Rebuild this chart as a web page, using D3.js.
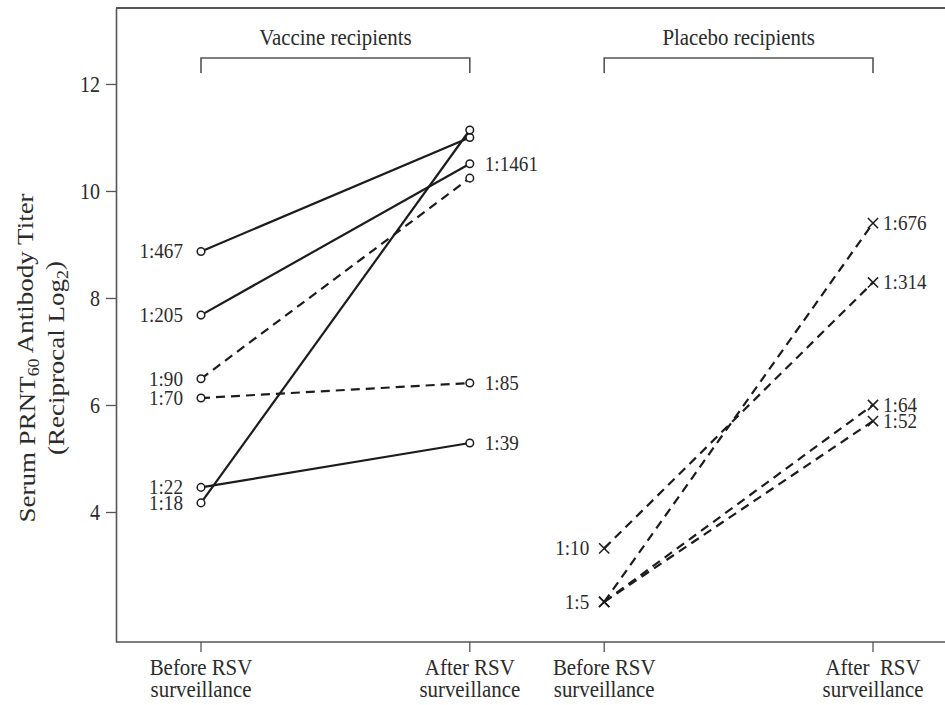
<!DOCTYPE html>
<html>
<head>
<meta charset="utf-8">
<script src="https://cdn.jsdelivr.net/npm/d3@7"></script>
<style>
  body { margin: 0; background: #fff; }
  svg { font-family: "Liberation Serif", "Times New Roman", serif; }
</style>
</head>
<body>
<div id="chart"></div>
<script>
// values are reciprocal log2 titers
var groups = ["Vaccine recipients", "Placebo recipients"];
var times = ["Before", "After"];
var timeLabels = [["Before RSV", "surveillance"], ["After RSV", "surveillance"],
                  ["Before RSV", "surveillance"], ["After  RSV", "surveillance"]];
var yTicks = [4, 6, 8, 10, 12];

var vaccineBefore = [8.87, 7.68, 6.49, 6.13, 4.46, 4.17];
var vaccineAfter  = [11.0, 10.51, 10.24, 6.41, 5.29, 11.14];
var vaccineDashed = [false, false, true, true, false, false];
var vaccineBeforeLabels = ["1:467", "1:205", "1:90", "1:70", "1:22", "1:18"];
var vaccineAfterLabels  = ["", "1:1461", "", "1:85", "1:39", ""];

var placeboBefore = [2.32, 3.32, 2.32, 2.32];
var placeboAfter  = [9.40, 8.29, 6.00, 5.70];
var placeboDashed = [true, true, true, true];
var placeboBeforeLabels = ["1:5", "1:10", "", ""];
var placeboAfterLabels  = ["1:676", "1:314", "1:64", "1:52"];

var W = 945, H = 705;
var plotLeft = 116, plotTop = 8, plotBottom = 642;
var squeeze = 0.87;
var ink = "#1c1c1c", textCol = "#2b2b2b", frameCol = "#555";

var svg = d3.select("#chart").append("svg")
  .attr("width", W).attr("height", H);

var y = d3.scaleLinear().domain([1.57, 13.42]).range([plotBottom, plotTop]);

var xGroup = d3.scaleBand().domain(groups).range([201, 873])
  .paddingInner(1 / 3).paddingOuter(0);
var xTime = d3.scalePoint().domain(times).range([0, xGroup.bandwidth()]);
var xPos = function(g, t) { return xGroup(g) + xTime(t); };

// squeezed horizontal text, like the narrow face in the figure
var label = function(parent, x, yy, txt, anchor, size) {
  return parent.append("text")
    .attr("transform", "translate(" + x + "," + yy + ") scale(" + squeeze + ",1)")
    .attr("text-anchor", anchor)
    .style("font-size", size + "px")
    .style("white-space", "pre")
    .attr("fill", textCol)
    .text(txt);
};

// frame: top and bottom rules
svg.append("line").attr("x1", plotLeft).attr("x2", W).attr("y1", plotTop).attr("y2", plotTop)
  .attr("stroke", frameCol).attr("stroke-width", 2);
svg.append("line").attr("x1", plotLeft).attr("x2", W).attr("y1", plotBottom).attr("y2", plotBottom)
  .attr("stroke", frameCol).attr("stroke-width", 1.6);

// y axis
var yAxis = d3.axisLeft(y).tickValues(yTicks).tickSize(10).tickSizeOuter(0).tickPadding(6);
var gy = svg.append("g").attr("transform", "translate(" + plotLeft + ",0)").call(yAxis);
gy.select(".domain").attr("stroke", frameCol).attr("stroke-width", 1.6);
gy.selectAll(".tick line").attr("stroke", frameCol).attr("stroke-width", 1.3);
gy.selectAll(".tick text")
  .attr("x", -16 / squeeze)
  .attr("transform", "scale(" + squeeze + ",1)")
  .attr("fill", textCol)
  .style("font-size", "23px")
  .style("font-family", "Liberation Serif, serif");

// y title
var t1 = svg.append("text")
  .attr("transform", "translate(35,358) scale(" + squeeze + ",1) rotate(-90)")
  .attr("text-anchor", "middle").style("font-size", "27px").attr("fill", textCol);
t1.append("tspan").text("Serum PRNT");
t1.append("tspan").attr("dy", "0.25em").style("font-size", "18px").text("60");
t1.append("tspan").attr("dy", "-0.25em").text(" Antibody Titer");
var t2 = svg.append("text")
  .attr("transform", "translate(64,358) scale(" + squeeze + ",1) rotate(-90)")
  .attr("text-anchor", "middle").style("font-size", "27px").attr("fill", textCol);
t2.append("tspan").text("(Reciprocal Log");
t2.append("tspan").attr("dy", "0.25em").style("font-size", "18px").text("2");
t2.append("tspan").attr("dy", "-0.25em").text(")");

// x ticks and labels
var xCats = [];
groups.forEach(function(g) { times.forEach(function(t) { xCats.push(xPos(g, t)); }); });
svg.selectAll(".xtick").data(xCats).enter().append("line")
  .attr("x1", function(d) { return d; }).attr("x2", function(d) { return d; })
  .attr("y1", plotBottom).attr("y2", plotBottom + 10)
  .attr("stroke", frameCol).attr("stroke-width", 1.3);
xCats.forEach(function(xx, i) {
  label(svg, xx, 675, timeLabels[i][0], "middle", 24);
  label(svg, xx, 697, timeLabels[i][1], "middle", 24);
});

// group brackets and titles
groups.forEach(function(g) {
  var x0 = xPos(g, "Before"), x1 = xPos(g, "After");
  svg.append("path")
    .attr("d", "M" + x0 + ",73V58H" + x1 + "V73")
    .attr("fill", "none").attr("stroke", frameCol).attr("stroke-width", 1.6);
  label(svg, (x0 + x1) / 2, 45, g, "middle", 24);
});

var drawGroup = function(g, before, after, dashed, bLabels, aLabels, marker) {
  var xb = xPos(g, "Before"), xa = xPos(g, "After");
  var rows = before.map(function(v, i) {
    return {b: v, a: after[i], dash: dashed[i], lb: bLabels[i], la: aLabels[i]};
  });
  var layer = svg.append("g");
  layer.selectAll("line.subj").data(rows).enter().append("line")
    .attr("x1", xb).attr("y1", function(d) { return y(d.b); })
    .attr("x2", xa).attr("y2", function(d) { return y(d.a); })
    .attr("stroke", ink).attr("stroke-width", 2.2)
    .attr("stroke-dasharray", function(d) { return d.dash ? "9,6" : null; });

  var pts = [];
  rows.forEach(function(d) { pts.push({x: xb, v: d.b}); pts.push({x: xa, v: d.a}); });
  if (marker == "circle") {
    layer.selectAll("circle").data(pts).enter().append("circle")
      .attr("cx", function(d) { return d.x; }).attr("cy", function(d) { return y(d.v); })
      .attr("r", 3.8).attr("fill", "#fff").attr("stroke", ink).attr("stroke-width", 1.5);
  } else {
    var sym = d3.symbol(d3.symbolX, 70);
    layer.selectAll("path.x").data(pts).enter().append("path")
      .attr("transform", function(d) { return "translate(" + d.x + "," + y(d.v) + ")"; })
      .attr("d", sym).attr("fill", "none").attr("stroke", ink).attr("stroke-width", 1.5);
  }
  return {rows: rows, xb: xb, xa: xa};
};

var vac = drawGroup(groups[0], vaccineBefore, vaccineAfter, vaccineDashed,
  vaccineBeforeLabels, vaccineAfterLabels, "circle");
vac.rows.forEach(function(d) {
  if (d.lb) label(svg, vac.xb - 18, y(d.b) + 7, d.lb, "end", 22);
  if (d.la) label(svg, vac.xa + 15, y(d.a) + 7, d.la, "start", 22);
});

var pla = drawGroup(groups[1], placeboBefore, placeboAfter, placeboDashed,
  placeboBeforeLabels, placeboAfterLabels, "x");
pla.rows.forEach(function(d) {
  if (d.lb) label(svg, pla.xb - 15, y(d.b) + 7, d.lb, "end", 22);
  if (d.la) label(svg, pla.xa + 10, y(d.a) + 7, d.la, "start", 22);
});
</script>
</body>
</html>
